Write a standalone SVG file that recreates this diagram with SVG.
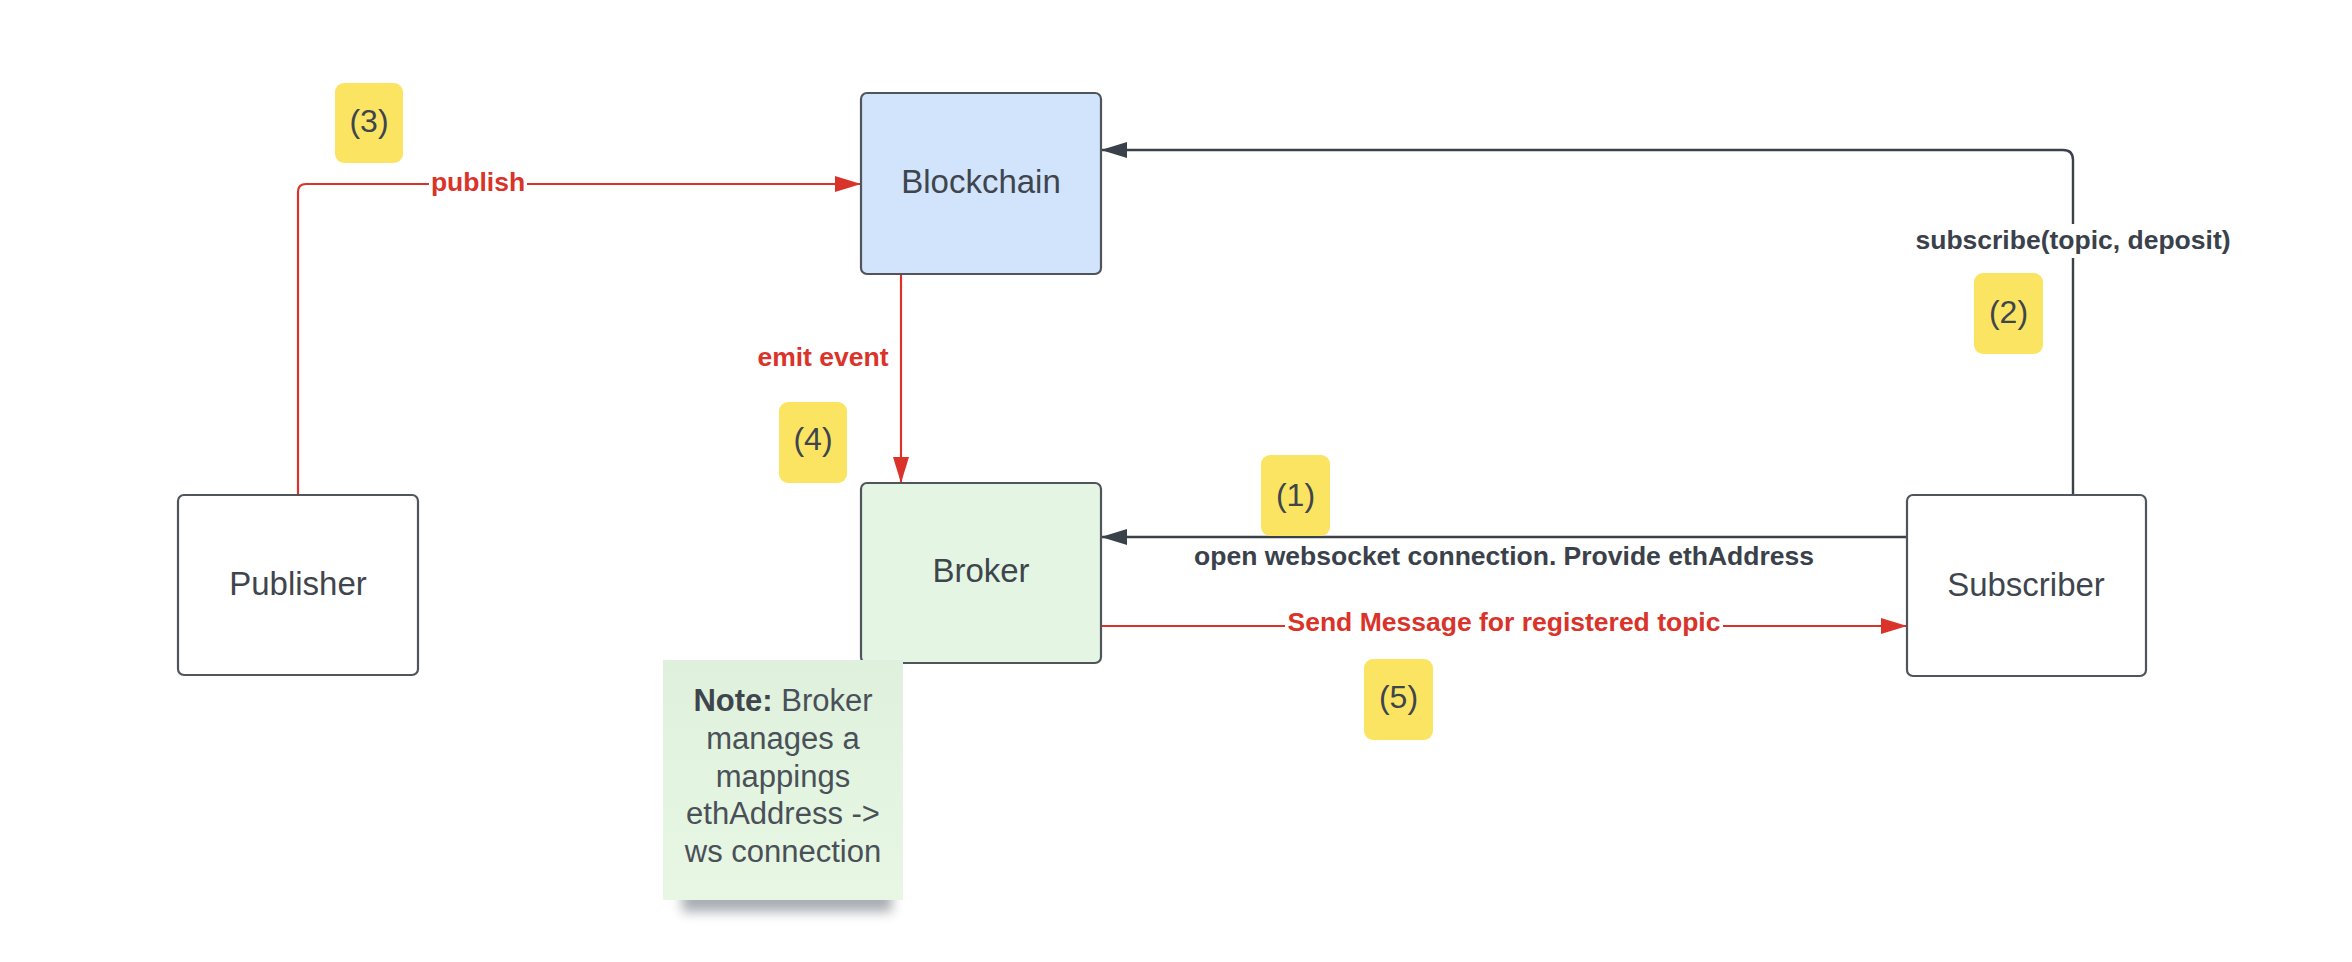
<svg xmlns="http://www.w3.org/2000/svg" width="2352" height="962" viewBox="0 0 2352 962">
<defs>
<style>
.node{stroke:#50555c;stroke-width:2.2}
.lbl{font-family:"Liberation Sans",Arial,sans-serif;font-size:33px;fill:#3f454d;text-anchor:middle}
.badge{fill:#fbe462}
.btxt{font-family:"Liberation Sans",Arial,sans-serif;font-size:32px;fill:#3f454d;text-anchor:middle}
.red{stroke:#d9332a;stroke-width:2.2;fill:none}
.dark{stroke:#3a414a;stroke-width:2.4;fill:none}
.clbl{font-family:"Liberation Sans",Arial,sans-serif;font-size:26.5px;font-weight:bold;text-anchor:middle}
.cred{fill:#d9332a}
.cdark{fill:#3a414a}
.note{font-family:"Liberation Sans",Arial,sans-serif;font-size:31px;fill:#4a5058;text-anchor:middle}
</style>
<marker id="arRed" viewBox="0 0 26 16" refX="26" refY="8" markerWidth="26" markerHeight="16" markerUnits="userSpaceOnUse" orient="auto">
<path d="M0,0 L26,8 L0,16 Z" fill="#d9332a"/>
</marker>
<marker id="arDark" viewBox="0 0 26 16" refX="26" refY="8" markerWidth="26" markerHeight="16" markerUnits="userSpaceOnUse" orient="auto">
<path d="M0,0 L26,8 L0,16 Z" fill="#3a414a"/>
</marker>
<linearGradient id="noteGrad" x1="0" y1="0" x2="0" y2="1">
<stop offset="0" stop-color="#dff1dd"/>
<stop offset="1" stop-color="#e7f7e4"/>
</linearGradient>
<filter id="blur" x="-20%" y="-100%" width="140%" height="300%">
<feGaussianBlur stdDeviation="6"/>
</filter>
</defs>
<rect width="2352" height="962" fill="#ffffff"/>

<g id="connectors">
<path id="c-publish" class="red" d="M298,495 V192 Q298,184 306,184 H861" marker-end="url(#arRed)"/>
<path id="c-emit" class="red" d="M901,274 V483" marker-end="url(#arRed)"/>
<path id="c-subscribe" class="dark" d="M2073,495 V160 Q2073,150 2063,150 H1101" marker-end="url(#arDark)"/>
<path id="c-open" class="dark" d="M1907,537 H1101" marker-end="url(#arDark)"/>
<path id="c-send" class="red" d="M1101,626 H1907" marker-end="url(#arRed)"/>
<rect x="429" y="168" width="98" height="32" fill="#ffffff"/>
<text class="clbl cred" x="478" y="191">publish</text>
<text class="clbl cred" x="823" y="366">emit event</text>
<rect x="1913" y="224" width="320" height="34" fill="#ffffff"/>
<text class="clbl cdark" x="2073" y="249">subscribe(topic, deposit)</text>
<text class="clbl cdark" x="1504" y="565">open websocket connection. Provide ethAddress</text>
<rect x="1285" y="609" width="438" height="32" fill="#ffffff"/>
<text class="clbl cred" x="1504" y="631">Send Message for registered topic</text>
</g>

<g id="blockchain">
<rect class="node" x="861" y="93" width="240" height="181" rx="6" fill="#d2e3fc"/>
<text class="lbl" x="981" y="193">Blockchain</text>
</g>

<g id="broker">
<rect class="node" x="861" y="483" width="240" height="180" rx="6" fill="#e4f6e3"/>
<text class="lbl" x="981" y="582">Broker</text>
</g>

<g id="publisher">
<rect class="node" x="178" y="495" width="240" height="180" rx="6" fill="#ffffff"/>
<text class="lbl" x="298" y="595">Publisher</text>
</g>

<g id="subscriber">
<rect class="node" x="1907" y="495" width="239" height="181" rx="6" fill="#ffffff"/>
<text class="lbl" x="2026" y="596">Subscriber</text>
</g>

<g id="note">
<rect x="682" y="882" width="210" height="30" fill="#7d838b" opacity="0.65" filter="url(#blur)"/>
<rect x="663" y="660" width="240" height="240" fill="url(#noteGrad)"/>
<text class="note" x="783" y="711"><tspan font-weight="bold" fill="#3f454d">Note:</tspan> Broker</text>
<text class="note" x="783" y="749">manages a</text>
<text class="note" x="783" y="787">mappings</text>
<text class="note" x="783" y="824">ethAddress -&gt;</text>
<text class="note" x="783" y="862">ws connection</text>
</g>

<g id="badge1">
<rect class="badge" x="1261" y="455" width="69" height="81" rx="9"/>
<text class="btxt" x="1295.5" y="506">(1)</text>
</g>
<g id="badge2">
<rect class="badge" x="1974" y="273" width="69" height="81" rx="9"/>
<text class="btxt" x="2008.5" y="323">(2)</text>
</g>
<g id="badge3">
<rect class="badge" x="335" y="83" width="68" height="80" rx="9"/>
<text class="btxt" x="369" y="132">(3)</text>
</g>
<g id="badge4">
<rect class="badge" x="779" y="402" width="68" height="81" rx="9"/>
<text class="btxt" x="813" y="450">(4)</text>
</g>
<g id="badge5">
<rect class="badge" x="1364" y="659" width="69" height="81" rx="9"/>
<text class="btxt" x="1398.5" y="708">(5)</text>
</g>
</svg>
